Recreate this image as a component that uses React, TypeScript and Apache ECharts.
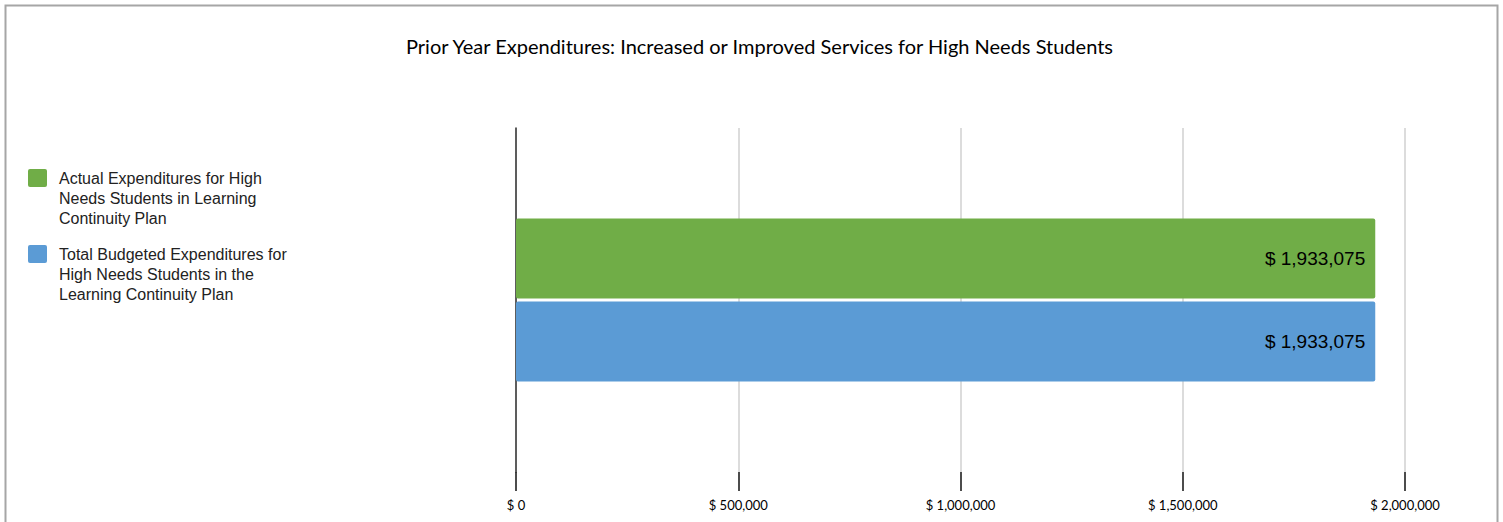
import React, { useEffect, useRef } from "react";
import * as echarts from "echarts";

const TITLE = "Prior Year Expenditures: Increased or Improved Services for High Needs Students";
const CATEGORIES = ["Prior Year"];
const SERIES_NAMES = [
  "Actual Expenditures for High Needs Students in Learning Continuity Plan",
  "Total Budgeted Expenditures for High Needs Students in the Learning Continuity Plan",
];
const SERIES_LEGEND_LINES = [
  ["Actual Expenditures for High", "Needs Students in Learning", "Continuity Plan"],
  ["Total Budgeted Expenditures for", "High Needs Students in the", "Learning Continuity Plan"],
];
const SERIES_COLORS = ["#70AD47", "#5B9BD5"];
const ACTUAL_VALUES = [1933075];
const BUDGETED_VALUES = [1933075];
const X_MIN = 0;
const X_MAX = 2000000;
const X_INTERVAL = 500000;

const money = (v: number) => "$ " + Math.round(v).toLocaleString("en-US");

export default function App() {
  const ref = useRef<HTMLDivElement>(null);
  useEffect(() => {
    if (!ref.current) return;
    const chart = echarts.init(ref.current, undefined, { renderer: "svg" });
    const values = [ACTUAL_VALUES, BUDGETED_VALUES];
    const legendTop = 169;
    const legendStep = 76;
    const legendGraphics = SERIES_NAMES.map((name, i) => ({
      type: "group",
      x: 28,
      y: legendTop + i * legendStep,
      silent: true,
      children: [
        {
          type: "rect",
          shape: { x: 0, y: 0, width: 19, height: 18, r: 2 },
          style: { fill: SERIES_COLORS[i] },
        },
        {
          type: "text",
          x: 31,
          y: -1,
          style: {
            text: SERIES_LEGEND_LINES[i].join("\n"),
            fontFamily: "Liberation Sans",
            fontSize: 16,
            lineHeight: 20,
            fill: "#222",
            verticalAlign: "top",
            align: "left",
          },
        },
      ],
    }));
    chart.setOption({
      animation: false,
      backgroundColor: "#ffffff",
      title: {
        text: TITLE,
        left: 401,
        top: 31,
        textStyle: { fontFamily: "Lato", fontSize: 20, fontWeight: "normal", color: "#000" },
      },
      graphic: [
        {
          type: "rect",
          shape: { x: 5.5, y: 5.5, width: 1492, height: 530 },
          style: { fill: "none", stroke: "#a6a6a6", lineWidth: 2 },
          silent: true,
        },
        ...legendGraphics,
      ],
      grid: { left: 516, right: 98, top: 128, bottom: 50 },
      xAxis: {
        type: "value",
        min: X_MIN,
        max: X_MAX,
        interval: X_INTERVAL,
        axisLine: { show: false },
        axisTick: { show: true, length: 19, lineStyle: { color: "#111", width: 1.5 } },
        axisLabel: {
          margin: 26,
          formatter: (v: number) => money(v),
          fontFamily: "Lato",
          fontSize: 13,
          color: "#000",
        },
        splitLine: { show: true, lineStyle: { color: "#d0d0d0", width: 1.5 } },
      },
      yAxis: {
        type: "category",
        data: CATEGORIES,
        inverse: true,
        axisLine: { show: true, lineStyle: { color: "#333", width: 1.5 } },
        axisTick: { show: false },
        axisLabel: { show: false },
      },
      series: SERIES_NAMES.map((name, i) => ({
        name,
        type: "bar",
        data: values[i],
        barWidth: 80,
        barGap: "4%",
        itemStyle: { color: SERIES_COLORS[i], borderRadius: 2 },
        label: {
          show: true,
          position: "insideRight",
          distance: 10,
          formatter: (p: any) => money(p.value),
          fontFamily: "Liberation Sans",
          fontSize: 19,
          color: "#000",
        },
      })),
    });
    return () => chart.dispose();
  }, []);
  return (
    <div
      ref={ref}
      style={{ position: "absolute", left: 0, top: 0, width: 1503, height: 522 }}
    />
  );
}
